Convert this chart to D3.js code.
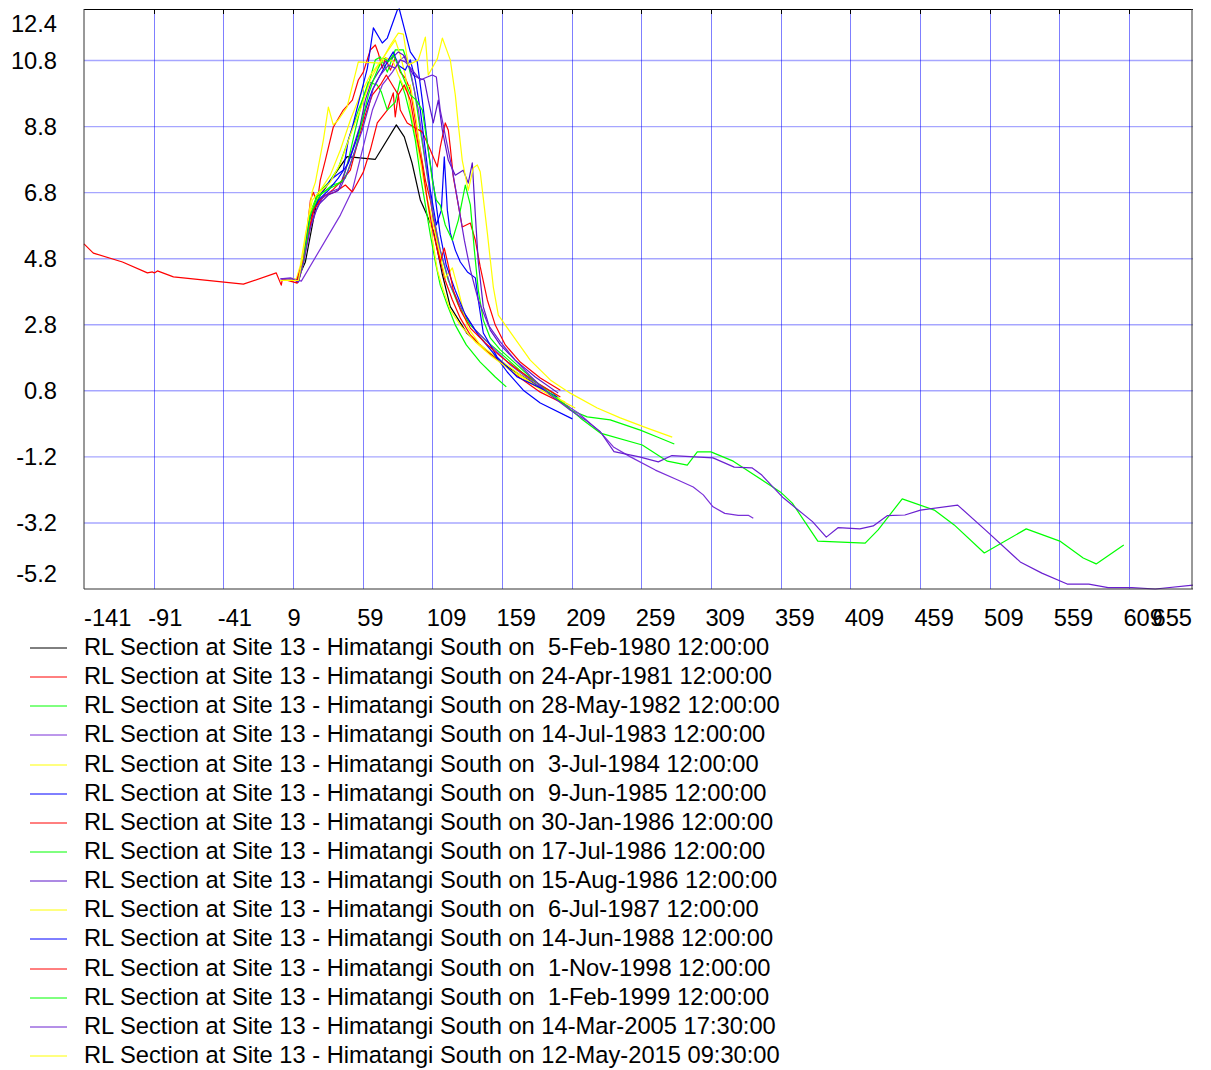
<!DOCTYPE html>
<html>
<head>
<meta charset="utf-8">
<script src="https://cdn.jsdelivr.net/npm/d3@7"></script>
<style>
body { margin: 0; background: #fff; }
text { font-family: "Liberation Sans", Arial, sans-serif; font-size: 23.7px; fill: #000; white-space: pre; }
</style>
</head>
<body>
<svg id="chart" width="1211" height="1070"></svg>
<script>
// ---- data: [distance (m), RL (m)] ----
var feb1980 = [[11.4,4.09],[17.9,4.70],[26.3,6.58],[47.8,7.89],[68.1,7.81],[83.2,8.85],[88.9,8.49],[94.5,7.69],[100.4,6.58],[105.2,6.12],[110,5.62],[116,4.36],[121.9,3.35],[133.9,2.54],[143.5,2.19],[157.8,1.67],[172.2,1.28],[190.1,0.82]];

var apr1981 = [[-141,5.25],[-134.3,4.97],[-113.4,4.70],[-95.5,4.37],[-91.9,4.40],[-90.5,4.37],[-88.3,4.43],[-76.8,4.25],[-26.6,4.03],[-3,4.37],[0.6,4.00],[1.4,4.19],[12.1,4.06],[14.3,4.31],[17.9,5.21],[21.5,6.57],[23.6,6.81],[26.3,6.48],[28.6,7.18],[32.2,7.78],[37.9,8.78],[45.1,9.30],[51.6,9.60],[55.9,10.21],[59.5,10.45],[64.5,11.12],[68.1,11.27],[70.2,11.03],[73.1,10.57],[75.3,10.88],[78.9,10.51],[82.4,10.88],[86,10.45],[89.6,10.27],[93.2,9.91],[96.8,9.0],[100.4,8.09],[104,7.18],[107.6,6.57],[111.2,5.66],[114.7,4.75],[118.3,4.14],[123.4,3.55],[129.1,3.0],[136.3,2.49],[147,2.04],[157.8,1.67],[172.1,1.19],[186.5,0.76],[200.9,0.46],[207.3,0.31]];

var may1982 = [[12.9,4.12],[16.5,4.69],[21.5,6.21],[27.2,6.81],[34.4,7.09],[41.5,7.54],[48.7,8.39],[55.9,9.30],[63.1,10.06],[68.1,10.82],[71.7,10.91],[76.7,10.45],[82.4,11.12],[88.2,11.12],[91.8,10.66],[96.1,9.91],[100.4,8.69],[105.4,7.33],[109.7,6.12],[114.7,5.05],[120.5,4.14],[127.7,3.40],[136.3,2.79],[147,2.34],[157.8,1.95],[177.2,1.22],[195.8,0.73],[208,0.22],[220.2,0.01],[236.7,-0.08],[258.3,-0.39],[270.5,-0.60],[282.7,-0.81]];

var jul1983 = [[0,4.19],[7.1,4.22],[15,4.12],[43,6.12],[51.6,6.87],[58.8,8.09],[66,9.30],[73.1,10.06],[80.3,10.45],[86,10.82],[89.6,10.94],[93.2,10.51],[99,9.30],[104,7.78],[109,6.27],[114.7,5.05],[121.9,4.0],[130.5,3.25],[139.9,2.64],[150.6,2.19],[165,1.58],[179.3,1.13],[197.3,0.58],[213.8,0.13],[229.6,-0.45],[239,-0.90],[251.2,-1.20],[269.1,-1.60],[285.2,-1.90],[296.3,-2.11],[303.5,-2.35],[310.5,-2.71],[318.9,-2.91],[328.6,-2.97],[335.8,-2.97],[339.4,-3.06]];

var jul1984 = [[0,4.14],[11.4,4.19],[14.3,4.60],[17.9,5.52],[22.9,6.57],[28.6,6.87],[35.8,7.33],[43,8.09],[50.2,9.0],[57.3,9.76],[64.5,10.36],[71.7,10.76],[77.5,11.12],[82.4,11.42],[86,10.97],[89.6,10.36],[93.2,9.30],[99,8.09],[104,6.87],[109,5.97],[112.6,5.27],[118.3,4.22],[123.4,4.52],[127.7,3.84],[134.2,2.73],[143.4,2.19],[157.8,1.73],[172.1,1.28],[190.1,0.76],[211.6,0.28]];

var jun1985 = [[12.9,4.09],[15.8,4.69],[21.5,6.12],[28.6,6.73],[35.8,7.18],[43,7.42],[45.1,7.48],[48.7,8.39],[51.6,8.78],[55.2,9.39],[58.8,9.97],[62.4,10.57],[66.7,11.79],[73.1,11.33],[76.7,11.48],[83.9,12.33],[85.3,12.36],[89.6,11.66],[93.2,11.06],[98.2,10.76],[101.8,9.60],[106.1,8.09],[110.4,6.87],[114.7,5.52],[119,4.60],[125.5,3.84],[132.7,3.10],[142,2.49],[152.1,1.98],[162.8,1.37],[174.3,0.82],[186.5,0.43],[209.5,-0.05]];

var jan1986 = [[11.4,4.06],[15.8,4.60],[20.1,5.66],[25.2,6.43],[32.3,6.73],[39.4,6.82],[46.6,7.03],[51.6,6.82],[59.5,7.42],[64.5,8.09],[69.5,8.91],[76.7,9.30],[81,9.82],[82.4,9.09],[84.6,9.76],[86,9.30],[91,8.91],[96.8,8.76],[101.8,8.64],[107.6,8.09],[112.6,7.58],[114.7,8.18],[118.3,8.91],[120.5,8.69],[121.9,8.18],[124.1,7.27],[130.5,5.76],[136.3,5.88],[139.9,5.36],[143.4,4.55],[148.5,3.55],[154.2,2.79],[161.4,2.19],[172.1,1.67],[186.5,1.19],[200.9,0.82]];

var jul1986 = [[12.1,4.09],[15.8,4.69],[21.5,6.12],[28.6,6.73],[37.2,7.03],[44.4,7.12],[48.7,7.78],[53.7,8.69],[58.8,9.60],[63.1,10.15],[69.5,10.06],[72.4,9.85],[76.7,9.30],[82.4,9.54],[86,10.21],[89.6,9.76],[93.2,9.15],[96.8,8.39],[100.4,7.33],[104,6.43],[107.6,5.52],[111.2,4.70],[114.7,4.0],[119.8,3.40],[125.5,2.79],[133.4,2.19],[143.4,1.67],[154.2,1.22],[162.1,0.92]];

var aug1986 = [[11.4,4.09],[16.5,4.69],[21.5,5.82],[27.2,6.43],[34.4,6.73],[41.5,6.87],[46.6,7.48],[51.6,8.09],[57.3,8.85],[60.9,9.60],[64.5,10.06],[70.2,10.45],[75.3,10.76],[80.3,10.88],[84.6,11.06],[88.2,10.97],[91.8,10.66],[95.4,10.36],[99,10.27],[103.3,10.21],[106.1,9.60],[109.7,8.91],[113.3,9.60],[116.2,8.69],[120.5,7.78],[125.5,7.33],[131.2,7.48],[134.8,7.09],[137.7,7.70],[139.9,6.12],[142,4.70],[145.6,3.34],[150.6,2.64],[157.8,2.19],[168.5,1.73],[182.9,1.22],[199.4,0.73]];

var jul1987 = [[12.9,4.12],[16.5,4.69],[22.2,6.27],[28.6,6.82],[35.8,7.12],[43,7.69],[50.2,8.55],[57.3,9.30],[64.5,10.21],[70.2,10.66],[75.9,10.88],[81,10.76],[84.6,10.36],[89.6,9.91],[93.2,10.06],[97.5,9.0],[101.1,7.78],[105.4,6.57],[109,5.43],[112.6,4.46],[116.9,3.85],[121.9,3.25],[129.1,2.79],[139.9,2.28],[150.6,1.88],[165,1.43],[179.3,1.04],[192.2,0.70],[204.4,0.46]];

var jun1988 = [[12.1,4.09],[15.8,4.69],[20.8,5.97],[27.2,6.57],[34.4,6.87],[41.5,7.24],[48.7,7.69],[54.5,8.39],[60.9,9.30],[66,9.91],[71.7,10.36],[77.5,10.82],[81,11.06],[84.6,10.66],[89.6,10.51],[93.2,10.82],[96.8,10.21],[100.4,9.30],[104,8.09],[107.6,6.87],[111.9,5.82],[115.5,6.27],[117.6,7.88],[119.8,6.27],[121.9,5.58],[125.5,5.06],[129.1,4.70],[134.2,4.40],[139.9,4.22],[142,3.55],[145.6,2.55],[155.6,1.82],[170,1.22],[186.5,0.89],[198.6,0.61]];

var nov1998 = [[11.4,4.09],[15.8,4.69],[19.3,5.36],[23.6,6.27],[30.1,6.64],[37.2,6.87],[44.4,7.18],[50.2,7.48],[55.9,8.39],[60.9,9.15],[66,9.76],[71.7,10.06],[76,10.36],[80.3,10.06],[84.6,9.76],[88.9,10.06],[93.2,9.60],[97.5,8.55],[101.8,7.63],[105.4,6.57],[109,5.73],[112.6,5.06],[114.7,4.70],[117.6,5.12],[120.5,4.60],[124.1,3.84],[129.1,3.25],[136.3,2.70],[147,2.25],[157.8,1.85],[170.7,1.43],[186.5,0.98],[200.9,0.61]];

var feb1999 = [[12.9,4.12],[16.5,4.69],[21.5,6.12],[26.5,6.69],[33,6.87],[40.1,7.03],[46.6,7.24],[53.7,8.09],[58.8,9.0],[63.1,9.76],[66.7,10.21],[70.2,10.57],[73.8,10.88],[77.5,10.76],[81,10.97],[84.6,10.66],[88.9,10.21],[93.2,9.76],[97.5,9.60],[101.8,9.30],[106.1,8.09],[109,7.18],[111.9,6.57],[114.7,6.42],[118.3,5.82],[123.4,5.36],[127.7,5.97],[132.7,7.03],[136.3,6.43],[139.2,5.06],[142,3.85],[145.6,2.94],[150.6,2.40],[157.8,2.04],[168.5,1.64],[179.3,1.22],[192.2,0.76],[204.4,0.37],[215.2,-0.02],[229.6,-0.48],[259.7,-0.84],[277.7,-1.33],[292,-1.45],[299.2,-1.05],[309,-1.05],[325,-1.33],[358.8,-2.26],[367.4,-2.60],[385.7,-3.75],[419.7,-3.81],[429,-3.41],[446.3,-2.47],[469.3,-2.81],[483.6,-3.26],[505.2,-4.11],[535.3,-3.38],[559.4,-3.75],[576.2,-4.26],[585.5,-4.44],[605.3,-3.87]];

var mar2005 = [[0,4.19],[8.6,4.19],[12.9,4.09],[16.5,4.67],[21.5,5.73],[25.8,6.27],[30.1,6.64],[35.8,6.82],[43,6.94],[48.7,7.48],[53.7,8.09],[58.8,8.70],[63.1,9.36],[66.7,9.97],[71.7,10.36],[77.5,10.66],[82.4,10.57],[86,10.82],[89.6,10.76],[94.7,10.51],[100.4,10.21],[105.4,10.30],[109,10.36],[111.9,10.30],[114.7,9.30],[119,8.39],[123.4,7.48],[127.7,6.43],[132,5.36],[136.3,4.46],[142,3.55],[149.2,2.79],[157.8,2.28],[168.5,1.73],[179.3,1.25],[193.7,0.67],[208,0.22],[218.8,-0.08],[229.6,-0.44],[239.4,-1.04],[257.6,-1.20],[271.2,-1.35],[281,-1.16],[310.5,-1.23],[325.7,-1.51],[338.4,-1.53],[345.5,-1.75],[360.9,-2.44],[381.9,-3.16],[391.8,-3.63],[400.4,-3.34],[415.9,-3.38],[425.5,-3.29],[435.5,-2.98],[448.2,-2.96],[459.4,-2.81],[486.1,-2.66],[505.9,-3.41],[531,-4.38],[546.5,-4.72],[564.7,-5.05],[580.2,-5.05],[594.1,-5.16],[611.1,-5.16],[627.9,-5.20],[655,-5.08]];

var may2015 = [[0,4.14],[12.9,4.14],[15.8,4.82],[22.7,6.82],[25.1,7.12],[30.8,8.39],[34.4,9.39],[37.9,8.85],[41.5,9.0],[47.8,9.39],[55.9,10.76],[71.7,10.72],[78.9,11.27],[84.6,11.63],[88.2,11.60],[91.8,10.66],[99,10.82],[104,11.51],[106.1,10.36],[112.6,10.85],[116.2,11.48],[121.9,10.82],[125.5,9.76],[127.7,8.85],[130.5,7.78],[134.8,6.87],[138.4,7.55],[141.3,7.64],[143.4,7.43],[148.5,5.58],[152.8,3.94],[156.4,3.09],[165,2.58],[179.3,1.73],[193.7,1.13],[208,0.73],[227.4,0.28],[243.9,-0.02],[263.3,-0.33],[281.2,-0.60]];

var surveys = [feb1980, apr1981, may1982, jul1983, jul1984, jun1985, jan1986, jul1986, aug1986, jul1987, jun1988, nov1998, feb1999, mar2005, may2015];
var surveyDates = [" 5-Feb-1980 12:00:00", "24-Apr-1981 12:00:00", "28-May-1982 12:00:00", "14-Jul-1983 12:00:00", " 3-Jul-1984 12:00:00", " 9-Jun-1985 12:00:00", "30-Jan-1986 12:00:00", "17-Jul-1986 12:00:00", "15-Aug-1986 12:00:00", " 6-Jul-1987 12:00:00", "14-Jun-1988 12:00:00", " 1-Nov-1998 12:00:00", " 1-Feb-1999 12:00:00", "14-Mar-2005 17:30:00", "12-May-2015 09:30:00"];
var lineColours = ["#000000", "#ff0000", "#00ff00", "#7a30d8", "#ffff00", "#0000ff", "#ff0000", "#00ff00", "#5a14c8", "#ffff00", "#0000ff", "#ff0000", "#00ff00", "#6a20d0", "#ffff00"];

var xTicks = [-141, -91, -41, 9, 59, 109, 159, 209, 259, 309, 359, 409, 459, 509, 559, 609, 655];
var yTicks = [12.4, 10.8, 8.8, 6.8, 4.8, 2.8, 0.8, -1.2, -3.2, -5.2];
var xDomain = [-141, 655];
var yDomain = [-5.2, 12.36];

var svg = d3.select("#chart");
var plot = {left: 84, top: 9, right: 1193, bottom: 589};

var x = d3.scaleLinear().domain(xDomain).range([plot.left, plot.right]);
var y = d3.scaleLinear().domain(yDomain).range([plot.bottom, plot.top]);

svg.append("rect").attr("width", 1211).attr("height", 1070).attr("fill", "#fff");

// grid
svg.append("g").selectAll("line")
    .data(xTicks.slice(1, -1)).enter().append("line")
    .attr("x1", function(d){ return Math.round(x(d)) + 0.5; })
    .attr("x2", function(d){ return Math.round(x(d)) + 0.5; })
    .attr("y1", plot.top).attr("y2", plot.bottom)
    .attr("stroke", "#0000ff").attr("stroke-opacity", 0.5).attr("stroke-width", 1);

svg.append("g").selectAll("line")
    .data(yTicks.slice(1, -1)).enter().append("line")
    .attr("x1", plot.left).attr("x2", plot.right)
    .attr("y1", function(d){ return y(d); })
    .attr("y2", function(d){ return y(d); })
    .attr("stroke", "#0000ff").attr("stroke-opacity", 0.35).attr("stroke-width", 1.4);

// small ticks hanging from the top edge
svg.append("g").selectAll("line")
    .data(xTicks.slice(1, -1)).enter().append("line")
    .attr("x1", function(d){ return Math.round(x(d)) + 0.5; })
    .attr("x2", function(d){ return Math.round(x(d)) + 0.5; })
    .attr("y1", plot.top).attr("y2", plot.top + 5)
    .attr("stroke", "#000");

// survey lines
var line = d3.line()
    .x(function(d){ return x(d[0]); })
    .y(function(d){ return y(d[1]); });

svg.append("g").selectAll("path")
    .data(surveys).enter().append("path")
    .attr("d", line)
    .attr("fill", "none")
    .attr("stroke", function(d, i){ return lineColours[i]; })
    .attr("stroke-width", 1.2)
    .attr("stroke-linejoin", "round");

// frame
svg.append("line").attr("x1", plot.left).attr("x2", plot.right).attr("y1", plot.top + 0.5).attr("y2", plot.top + 0.5).attr("stroke", "#000");
svg.append("line").attr("x1", plot.left).attr("x2", plot.left).attr("y1", plot.top).attr("y2", plot.bottom).attr("stroke", "#333");
svg.append("line").attr("x1", plot.left).attr("x2", plot.right).attr("y1", plot.bottom).attr("y2", plot.bottom).attr("stroke", "#333");
svg.append("line").attr("x1", plot.right - 1).attr("x2", plot.right - 1).attr("y1", plot.top).attr("y2", plot.bottom).attr("stroke", "#333");

// y labels, kept inside the frame at the ends
svg.append("g").selectAll("text")
    .data(yTicks).enter().append("text")
    .attr("x", 57)
    .attr("y", function(d){ return Math.max(plot.top + 14, Math.min(plot.bottom - 16, y(d))) + 8.5; })
    .attr("text-anchor", "end")
    .text(function(d){ return d.toFixed(1); });

// x labels: start just left of the grid line; first clamped, last right-aligned
svg.append("g").selectAll("text")
    .data(xTicks).enter().append("text")
    .attr("x", function(d, i){
        if (i == 0) { return plot.left; }
        if (i == xTicks.length - 1) { return plot.right - 1; }
        return x(d) - 5.5;
    })
    .attr("y", 625.5)
    .attr("text-anchor", function(d, i){ return i == xTicks.length - 1 ? "end" : "start"; })
    .text(function(d){ return d; });

// legend
var legend = svg.append("g").selectAll("g")
    .data(surveyDates).enter().append("g")
    .attr("transform", function(d, i){ return "translate(0," + Math.round(646 + i * 29.14) + ")"; });

legend.append("line")
    .attr("x1", 30).attr("x2", 67).attr("y1", 2).attr("y2", 2)
    .attr("stroke", function(d, i){ return lineColours[i]; });

legend.append("text")
    .attr("x", 84).attr("y", 8.5)
    .text(function(d){ return "RL Section at Site 13 - Himatangi South on " + d; });
</script>
</body>
</html>
